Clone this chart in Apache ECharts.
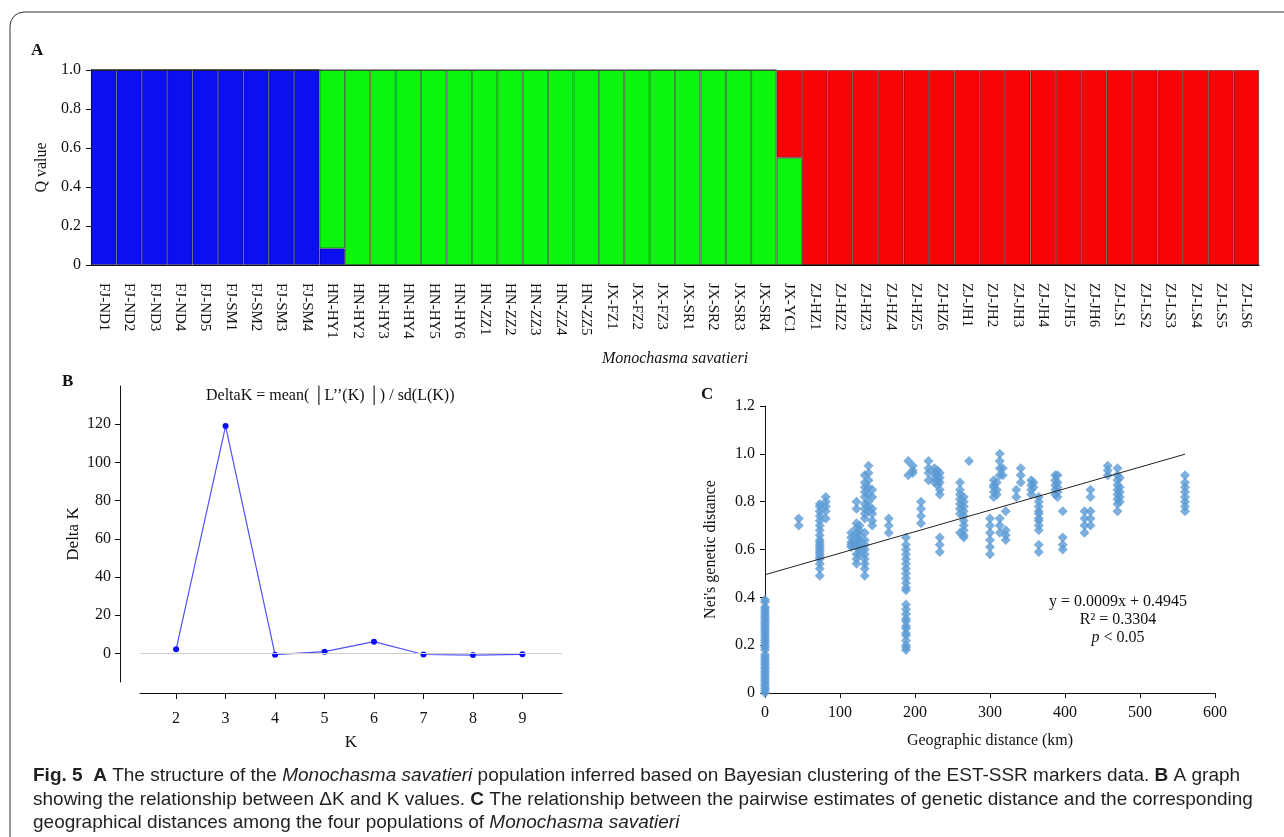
<!DOCTYPE html>
<html>
<head>
<meta charset="utf-8">
<title>Fig. 5</title>
<script src="https://cdn.jsdelivr.net/npm/echarts@6/dist/echarts.min.js"></script>
<style>
    html, body { margin: 0; padding: 0; background: #fff; }
    #fig { width: 1284px; height: 837px; }
</style>
</head>
<body>
<div id="fig"></div>
<script>
// A - Q values per sample
var samples = ['FJ-ND1', 'FJ-ND2', 'FJ-ND3', 'FJ-ND4', 'FJ-ND5', 'FJ-SM1', 'FJ-SM2', 'FJ-SM3', 'FJ-SM4',
    'HN-HY1', 'HN-HY2', 'HN-HY3', 'HN-HY4', 'HN-HY5', 'HN-HY6', 'HN-ZZ1', 'HN-ZZ2', 'HN-ZZ3', 'HN-ZZ4', 'HN-ZZ5',
    'JX-FZ1', 'JX-FZ2', 'JX-FZ3', 'JX-SR1', 'JX-SR2', 'JX-SR3', 'JX-SR4', 'JX-YC1',
    'ZJ-HZ1', 'ZJ-HZ2', 'ZJ-HZ3', 'ZJ-HZ4', 'ZJ-HZ5', 'ZJ-HZ6', 'ZJ-JH1', 'ZJ-JH2', 'ZJ-JH3', 'ZJ-JH4', 'ZJ-JH5', 'ZJ-JH6',
    'ZJ-LS1', 'ZJ-LS2', 'ZJ-LS3', 'ZJ-LS4', 'ZJ-LS5', 'ZJ-LS6'];
var qBlue  = [1, 1, 1, 1, 1, 1, 1, 1, 1, 0.085, 0, 0, 0, 0, 0, 0, 0, 0, 0, 0, 0, 0, 0, 0, 0, 0, 0, 0,
    0, 0, 0, 0, 0, 0, 0, 0, 0, 0, 0, 0, 0, 0, 0, 0, 0, 0];
var qGreen = [0, 0, 0, 0, 0, 0, 0, 0, 0, 0.915, 1, 1, 1, 1, 1, 1, 1, 1, 1, 1, 1, 1, 1, 1, 1, 1, 1, 0.55,
    0, 0, 0, 0, 0, 0, 0, 0, 0, 0, 0, 0, 0, 0, 0, 0, 0, 0];
var qRed   = [0, 0, 0, 0, 0, 0, 0, 0, 0, 0, 0, 0, 0, 0, 0, 0, 0, 0, 0, 0, 0, 0, 0, 0, 0, 0, 0, 0.45,
    1, 1, 1, 1, 1, 1, 1, 1, 1, 1, 1, 1, 1, 1, 1, 1, 1, 1];

// B - delta K
var kValues = [2, 3, 4, 5, 6, 7, 8, 9];
var deltaK = [2.1, 119, -0.7, 0.9, 6.1, -0.6, -0.9, -0.5];
var deltaKTicks = [0, 20, 40, 60, 80, 100, 120];

// C - genetic vs geographic distance, one column of points per distance
var distKm = [0, 45, 73, 81, 115, 122, 126, 133, 138, 143, 165, 188, 191, 197, 208, 218, 226, 230, 233,
    260, 265, 272, 300, 305, 309, 313, 317, 321, 335, 341, 355, 358, 365, 387, 390, 397, 426, 434, 457, 470, 473, 560];
var neiDist = [
    [0, 0.01, 0.02, 0.03, 0.04, 0.05, 0.06, 0.07, 0.08, 0.09, 0.10, 0.11, 0.12, 0.13, 0.14, 0.15, 0.16, 0.18, 0.19,
        0.20, 0.21, 0.22, 0.23, 0.24, 0.25, 0.26, 0.27, 0.28, 0.29, 0.30, 0.31, 0.32, 0.33, 0.34, 0.35, 0.36, 0.38, 0.39],
    [0.73, 0.70],
    [0.49, 0.52, 0.54, 0.56, 0.57, 0.58, 0.59, 0.60, 0.61, 0.62, 0.63, 0.64, 0.66, 0.68, 0.70, 0.72, 0.74, 0.76, 0.78, 0.79],
    [0.82, 0.80, 0.78, 0.76, 0.73],
    [0.67, 0.65, 0.63, 0.62, 0.61],
    [0.80, 0.77, 0.71, 0.69, 0.67, 0.65, 0.63, 0.61, 0.58, 0.56, 0.54],
    [0.70, 0.68, 0.66, 0.64, 0.62, 0.60, 0.58],
    [0.91, 0.88, 0.86, 0.84, 0.82, 0.79, 0.77, 0.75, 0.73, 0.67, 0.64, 0.62, 0.60, 0.58, 0.56, 0.54, 0.52, 0.49],
    [0.95, 0.92, 0.89, 0.86, 0.83, 0.80, 0.78, 0.76],
    [0.85, 0.82, 0.77, 0.75, 0.72, 0.70],
    [0.73, 0.70, 0.67],
    [0.65, 0.62, 0.60, 0.58, 0.56, 0.54, 0.52, 0.50, 0.48, 0.46, 0.44, 0.43, 0.37, 0.35, 0.33, 0.31, 0.30, 0.28,
        0.27, 0.25, 0.24, 0.22, 0.20, 0.19, 0.18],
    [0.97, 0.91],
    [0.95, 0.93, 0.92],
    [0.80, 0.77, 0.74, 0.71],
    [0.97, 0.94, 0.92, 0.89],
    [0.94, 0.92, 0.90, 0.88],
    [0.93, 0.91, 0.89, 0.87],
    [0.92, 0.90, 0.88, 0.85, 0.83, 0.65, 0.62, 0.59],
    [0.88, 0.85, 0.83, 0.81, 0.79, 0.77, 0.75, 0.67],
    [0.82, 0.80, 0.78, 0.76, 0.74, 0.72, 0.70, 0.68, 0.66, 0.65],
    [0.97],
    [0.73, 0.70, 0.67, 0.64, 0.61, 0.58],
    [0.89, 0.87, 0.86, 0.84, 0.82],
    [0.88, 0.85, 0.83],
    [1.00, 0.97, 0.94, 0.91, 0.73, 0.70, 0.67],
    [0.94, 0.91],
    [0.76, 0.68, 0.66, 0.64],
    [0.85, 0.82],
    [0.94, 0.91, 0.88],
    [0.89, 0.87, 0.85, 0.83],
    [0.88, 0.86],
    [0.82, 0.80, 0.78, 0.76, 0.75, 0.73, 0.72, 0.70, 0.68, 0.62, 0.59],
    [0.91, 0.89, 0.87, 0.85, 0.83],
    [0.91, 0.88, 0.86, 0.84, 0.82],
    [0.76, 0.65, 0.62, 0.60],
    [0.76, 0.73, 0.70, 0.67],
    [0.85, 0.82, 0.76, 0.73, 0.70],
    [0.95, 0.93, 0.91],
    [0.94, 0.91, 0.89, 0.87, 0.85, 0.83, 0.81, 0.79, 0.76],
    [0.90, 0.86, 0.84, 0.82, 0.80],
    [0.91, 0.88, 0.86, 0.84, 0.82, 0.80, 0.78, 0.76]
];
// fitted line y = 0.0009x + 0.4945, end points as drawn
var trendX = [0, 560];
var trendY = [0.4945, 0.9985];

var SERIF = '"Liberation Serif", "Times New Roman", serif';
var CAPTION_FONT = '"Liberation Sans Narrow", "Liberation Sans", sans-serif';

// tiny stand-in for jQuery.extend
var $ = {
    extend: function (a, b) {
        for (var k in b) { a[k] = b[k]; }
        return a;
    }
};

function buildScatter() {
    var pts = [];
    distKm.forEach(function (x, i) {
        neiDist[i].forEach(function (y) {
            pts.push([x, y]);
        });
    });
    return pts;
}

function decimalLabel(v) {
    return v === 0 ? '0' : v.toFixed(1);
}

function axisText(size) {
    return { color: '#111', fontFamily: SERIF, fontSize: size || 16 };
}

var blackLine = { onZero: false, lineStyle: { color: '#111', width: 1 } };

function panelLabel(txt, x, y) {
    return {
        type: 'text', left: x, top: y,
        style: { text: txt, font: 'bold 17px ' + SERIF, fill: '#111' }
    };
}

function captionLine(txt, y) {
    return {
        type: 'text', left: 33, top: y,
        style: {
            text: txt, fontFamily: CAPTION_FONT, fontSize: 19, fill: '#231f20',
            rich: {
                b: { fontWeight: 'bold', fontFamily: CAPTION_FONT, fontSize: 19, fill: '#231f20' },
                i: { fontStyle: 'italic', fontFamily: CAPTION_FONT, fontSize: 19, fill: '#231f20' }
            }
        }
    };
}

function init() {
    var chart = echarts.init(document.getElementById('fig'), null, { renderer: 'canvas' });
    var barBorder = { borderColor: 'rgba(0,0,0,0.55)', borderWidth: 0.8 };

    var option = {
        backgroundColor: '#fff',
        animation: false,
        grid: [
            { left: 91, top: 70, width: 1168, height: 195 },
            { left: 140, top: 386, width: 422, height: 296 },
            { left: 765, top: 406, width: 450, height: 287 }
        ],
        xAxis: [
            {
                gridIndex: 0, type: 'category', data: samples,
                name: 'Monochasma savatieri', nameLocation: 'middle', nameGap: 86,
                nameTextStyle: { color: '#111', fontFamily: SERIF, fontSize: 16, fontStyle: 'italic' },
                axisLine: blackLine,
                axisTick: { alignWithLabel: true, length: 6, lineStyle: { color: '#111' } },
                axisLabel: $.extend({ rotate: -90, margin: 18, interval: 0 }, axisText(15))
            },
            {
                gridIndex: 1, type: 'value', min: 1.27, max: 9.8, offset: 11,
                name: 'K', nameLocation: 'middle', nameGap: 41,
                nameTextStyle: axisText(17),
                axisLine: blackLine,
                axisTick: { customValues: kValues, length: 6, lineStyle: { color: '#111' } },
                axisLabel: $.extend({ customValues: kValues, margin: 18 }, axisText(16)),
                splitLine: { show: false }
            },
            {
                gridIndex: 2, type: 'value', min: 0, max: 600, interval: 100,
                name: 'Geographic distance (km)', nameLocation: 'middle', nameGap: 40,
                nameTextStyle: axisText(16),
                axisLine: blackLine,
                axisTick: { length: 5, lineStyle: { color: '#111' } },
                axisLabel: $.extend({ margin: 12 }, axisText(16)),
                splitLine: { show: false }
            }
        ],
        yAxis: [
            {
                gridIndex: 0, type: 'value', min: 0, max: 1, interval: 0.2,
                name: 'Q value', nameLocation: 'middle', nameGap: 38, nameRotate: 90,
                nameTextStyle: axisText(16),
                axisLine: { show: true, onZero: false, lineStyle: { color: '#111', width: 1 } },
                axisTick: { show: true, length: 5, lineStyle: { color: '#111' } },
                axisLabel: $.extend({ formatter: decimalLabel, margin: 10 }, axisText(16)),
                splitLine: { show: false }
            },
            {
                gridIndex: 1, type: 'value', min: -15, max: 140, offset: 20,
                name: 'Delta K', nameLocation: 'middle', nameGap: 38, nameRotate: 90,
                nameTextStyle: axisText(17),
                axisLine: { show: true, onZero: false, lineStyle: { color: '#111', width: 1 } },
                axisTick: { show: true, customValues: deltaKTicks, length: 5, lineStyle: { color: '#111' } },
                axisLabel: $.extend({ customValues: deltaKTicks, margin: 9 }, axisText(16)),
                splitLine: { show: false }
            },
            {
                gridIndex: 2, type: 'value', min: 0, max: 1.2, interval: 0.2,
                name: "Nei's genetic distance", nameLocation: 'middle', nameGap: 46, nameRotate: 90,
                nameTextStyle: axisText(16),
                axisLine: { show: true, onZero: false, lineStyle: { color: '#111', width: 1 } },
                axisTick: { show: true, length: 5, lineStyle: { color: '#111' } },
                axisLabel: $.extend({ formatter: decimalLabel, margin: 10 }, axisText(16)),
                splitLine: { show: false }
            }
        ],
        series: [
            {
                type: 'bar', name: 'K1', xAxisIndex: 0, yAxisIndex: 0, stack: 'q', data: qBlue,
                barCategoryGap: '0%', itemStyle: $.extend({ color: '#0a10f0' }, barBorder)
            },
            {
                type: 'bar', name: 'K2', xAxisIndex: 0, yAxisIndex: 0, stack: 'q', data: qGreen,
                barCategoryGap: '0%', itemStyle: $.extend({ color: '#0cf50c' }, barBorder)
            },
            {
                type: 'bar', name: 'K3', xAxisIndex: 0, yAxisIndex: 0, stack: 'q', data: qRed,
                barCategoryGap: '0%', itemStyle: $.extend({ color: '#f70505' }, barBorder)
            },
            {
                type: 'line', xAxisIndex: 1, yAxisIndex: 1,
                data: kValues.map(function (k, i) { return [k, deltaK[i]]; }),
                symbol: 'circle', symbolSize: 6,
                itemStyle: { color: '#0a0aff' },
                lineStyle: { color: '#5050ff', width: 1.2 },
                markLine: {
                    silent: true, symbol: 'none', label: { show: false },
                    lineStyle: { color: '#cfcfcf', type: 'solid', width: 1.2 },
                    data: [{ yAxis: 0 }]
                },
                z: 3
            },
            {
                type: 'scatter', xAxisIndex: 2, yAxisIndex: 2, data: buildScatter(),
                symbol: 'diamond', symbolSize: 10,
                itemStyle: { color: '#5b9bd5' }
            },
            {
                type: 'line', xAxisIndex: 2, yAxisIndex: 2,
                data: trendX.map(function (x, i) { return [x, trendY[i]]; }),
                symbol: 'none', lineStyle: { color: '#222', width: 1 }, z: 4
            }
        ],
        graphic: [
            {
                type: 'rect', silent: true,
                shape: { x: 10, y: 12, width: 1320, height: 900, r: 14 },
                style: { fill: 'none', stroke: '#333', lineWidth: 1 }
            },
            panelLabel('A', 31, 42),
            panelLabel('B', 62, 373),
            panelLabel('C', 701, 386),
            {
                type: 'text', left: 206, top: 388,
                style: { text: 'DeltaK = mean( \u2502L\u2019\u2019(K) \u2502) / sd(L(K))', font: '16px ' + SERIF, fill: '#111' }
            },
            {
                type: 'text', x: 1118, y: 593,
                style: {
                    text: 'y = 0.0009x + 0.4945\nR\u00b2 = 0.3304\n{i|p} < 0.05',
                    font: '16px ' + SERIF, fill: '#111', align: 'center', lineHeight: 18,
                    rich: { i: { fontStyle: 'italic', fontFamily: SERIF, fontSize: 16 } }
                }
            },
            captionLine('{b|Fig. 5}  {b|A} The structure of the {i|Monochasma savatieri} population inferred based on Bayesian clustering of the EST-SSR markers data. {b|B} A graph', 766),
            captionLine('showing the relationship between \u0394K and K values. {b|C} The relationship between the pairwise estimates of genetic distance and the corresponding', 790),
            captionLine('geographical distances among the four populations of {i|Monochasma savatieri}', 813)
        ]
    };
    chart.setOption(option);
}

init();
</script>
</body>
</html>
